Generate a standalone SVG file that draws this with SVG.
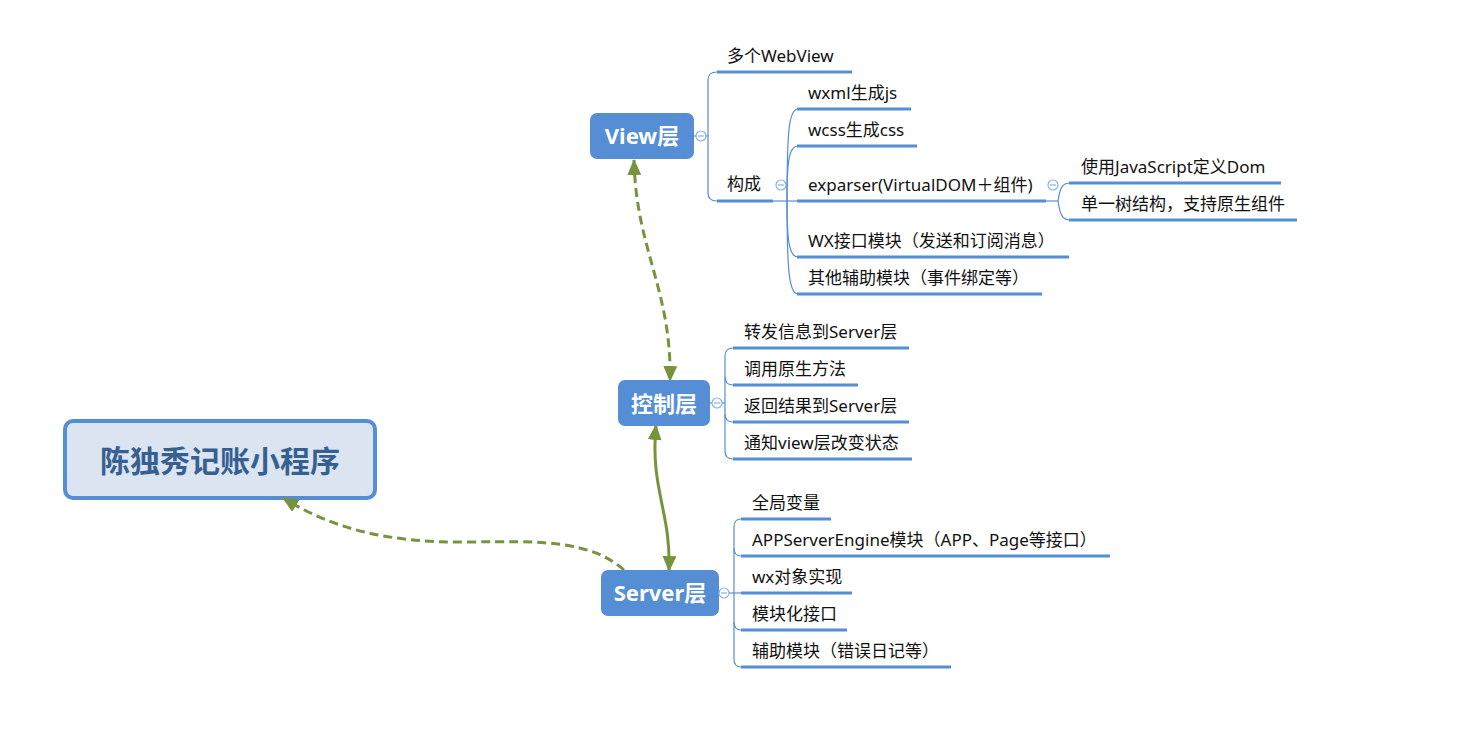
<svg xmlns="http://www.w3.org/2000/svg" width="1466" height="743" viewBox="0 0 1466 743">
<style>
.node{fill:#558ED5;}
.ntxt{font-family:"Noto Sans","Noto Sans CJK SC",sans-serif;font-size:22px;font-weight:bold;fill:#fff;text-anchor:middle;}
.ctxt{font-family:"Noto Sans","Noto Sans CJK SC",sans-serif;font-size:17px;fill:#111;}
.ul{stroke:#558ED5;stroke-width:3;fill:none;}
.br{stroke:#558ED5;stroke-width:1.2;fill:none;}
.col{fill:#fff;stroke:#8DB3E2;stroke-width:1.2;}
.colm{stroke:#8DB3E2;stroke-width:1.2;}
.arr{stroke:#77933C;stroke-width:3;fill:none;}
.dash{stroke-dasharray:9 5;}
</style>
<defs>
<marker id="ah" markerUnits="userSpaceOnUse" markerWidth="16" markerHeight="14" refX="15" refY="7" orient="auto-start-reverse" viewBox="0 0 16 14">
<path d="M0,0 L16,7 L0,14 z" fill="#77933C"/>
</marker>
</defs>
<rect width="1466" height="743" fill="#fff"/>

<g id="root">
<rect x="65" y="421" width="310" height="77" rx="8" fill="#DBE5F1" stroke="#558ED5" stroke-width="4"/>
<text x="220" y="472" font-family="'Noto Sans CJK SC',sans-serif" font-size="30" font-weight="bold" fill="#376092" text-anchor="middle">陈独秀记账小程序</text>
</g>

<g id="connectors">
<path class="arr dash" d="M634 160 C636 250 672 290 670 381" marker-start="url(#ah)" marker-end="url(#ah)"/>
<path class="arr" d="M656 425 C650 490 671 510 669 571" marker-start="url(#ah)" marker-end="url(#ah)"/>
<path class="arr dash" d="M624 570 C590 540 540 541 470 542 C390 543 335 530 283 498" marker-end="url(#ah)"/>
</g>

<g id="view">
<rect class="node" x="590" y="113" width="104" height="46" rx="7"/>
<text class="ntxt" x="642" y="144">View层</text>
<line class="br" x1="694" y1="136" x2="708" y2="136"/>
<circle class="col" cx="701" cy="136" r="5"/>
<line class="colm" x1="698" y1="136" x2="704" y2="136"/>
<path class="br" d="M717 72 Q708 72 708 80 V193 Q708 201 717 201"/>
</g>

<g id="view-webview">
<text class="ctxt" x="727" y="62">多个WebView</text>
<line class="ul" x1="717" y1="72" x2="852" y2="72"/>
</g>

<g id="view-goucheng">
<text class="ctxt" x="727" y="190">构成</text>
<line class="ul" x1="717" y1="201" x2="773" y2="201"/>
<line class="br" x1="773" y1="201" x2="798" y2="201"/>
<circle class="col" cx="781" cy="185" r="5"/>
<line class="colm" x1="778" y1="185" x2="784" y2="185"/>
<path class="br" d="M787 201 C787 130 789 109 798 109"/>
<path class="br" d="M787 201 C787 160 789 146 798 146"/>
<path class="br" d="M787 201 C787 240 789 257 798 257"/>
<path class="br" d="M787 201 C787 270 789 294 798 294"/>
</g>

<g id="gc-wxml">
<text class="ctxt" x="808" y="99">wxml生成js</text>
<line class="ul" x1="797" y1="109" x2="911" y2="109"/>
</g>
<g id="gc-wcss">
<text class="ctxt" x="808" y="136">wcss生成css</text>
<line class="ul" x1="797" y1="146" x2="917" y2="146"/>
</g>
<g id="gc-exparser">
<text class="ctxt" x="808" y="191">exparser(VirtualDOM＋组件)</text>
<line class="ul" x1="797" y1="201" x2="1046" y2="201"/>
<line class="br" x1="1046" y1="201" x2="1058" y2="201"/>
<circle class="col" cx="1053" cy="185" r="5"/>
<line class="colm" x1="1050" y1="185" x2="1056" y2="185"/>
<path class="br" d="M1058 201 C1060 188 1062 183 1070 183"/>
<path class="br" d="M1058 201 C1060 214 1062 220 1070 220"/>
</g>
<g id="ex-js">
<text class="ctxt" x="1081" y="173">使用JavaScript定义Dom</text>
<line class="ul" x1="1069" y1="183" x2="1281" y2="183"/>
</g>
<g id="ex-tree">
<text class="ctxt" x="1081" y="210">单一树结构，支持原生组件</text>
<line class="ul" x1="1069" y1="220" x2="1297" y2="220"/>
</g>
<g id="gc-wx">
<text class="ctxt" x="808" y="247">WX接口模块（发送和订阅消息）</text>
<line class="ul" x1="797" y1="257" x2="1069" y2="257"/>
</g>
<g id="gc-other">
<text class="ctxt" x="808" y="284">其他辅助模块（事件绑定等）</text>
<line class="ul" x1="797" y1="294" x2="1042" y2="294"/>
</g>

<g id="control">
<rect class="node" x="618" y="380" width="92" height="46" rx="7"/>
<text class="ntxt" x="664" y="412">控制层</text>
<line class="br" x1="710" y1="403" x2="725" y2="403"/>
<circle class="col" cx="717" cy="403" r="5"/>
<line class="colm" x1="714" y1="403" x2="720" y2="403"/>
<path class="br" d="M733 348 Q725 348 725 356 V451 Q725 459 733 459"/>
<path class="br" d="M725 377 Q725 385 733 385"/>
<path class="br" d="M725 414 Q725 422 733 422"/>
</g>
<g id="ctl-1">
<text class="ctxt" x="744" y="338">转发信息到Server层</text>
<line class="ul" x1="733" y1="348" x2="909" y2="348"/>
</g>
<g id="ctl-2">
<text class="ctxt" x="744" y="375">调用原生方法</text>
<line class="ul" x1="733" y1="385" x2="858" y2="385"/>
</g>
<g id="ctl-3">
<text class="ctxt" x="744" y="412">返回结果到Server层</text>
<line class="ul" x1="733" y1="422" x2="909" y2="422"/>
</g>
<g id="ctl-4">
<text class="ctxt" x="744" y="449">通知view层改变状态</text>
<line class="ul" x1="733" y1="459" x2="912" y2="459"/>
</g>

<g id="server">
<rect class="node" x="601" y="570" width="118" height="46" rx="7"/>
<text class="ntxt" x="660" y="601">Server层</text>
<line class="br" x1="719" y1="593" x2="734" y2="593"/>
<circle class="col" cx="724" cy="593" r="5"/>
<line class="colm" x1="721" y1="593" x2="727" y2="593"/>
<path class="br" d="M741 519 Q734 519 734 527 V659 Q734 667 741 667"/>
<path class="br" d="M734 548 Q734 556 741 556"/>
<path class="br" d="M734 593 H741"/>
<path class="br" d="M734 622 Q734 630 741 630"/>
</g>
<g id="srv-1">
<text class="ctxt" x="752" y="509">全局变量</text>
<line class="ul" x1="741" y1="519" x2="831" y2="519"/>
</g>
<g id="srv-2">
<text class="ctxt" x="752" y="546">APPServerEngine模块（APP、Page等接口）</text>
<line class="ul" x1="741" y1="556" x2="1110" y2="556"/>
</g>
<g id="srv-3">
<text class="ctxt" x="752" y="583">wx对象实现</text>
<line class="ul" x1="741" y1="593" x2="852" y2="593"/>
</g>
<g id="srv-4">
<text class="ctxt" x="752" y="620">模块化接口</text>
<line class="ul" x1="741" y1="630" x2="847" y2="630"/>
</g>
<g id="srv-5">
<text class="ctxt" x="752" y="657">辅助模块（错误日记等）</text>
<line class="ul" x1="741" y1="667" x2="951" y2="667"/>
</g>
</svg>
